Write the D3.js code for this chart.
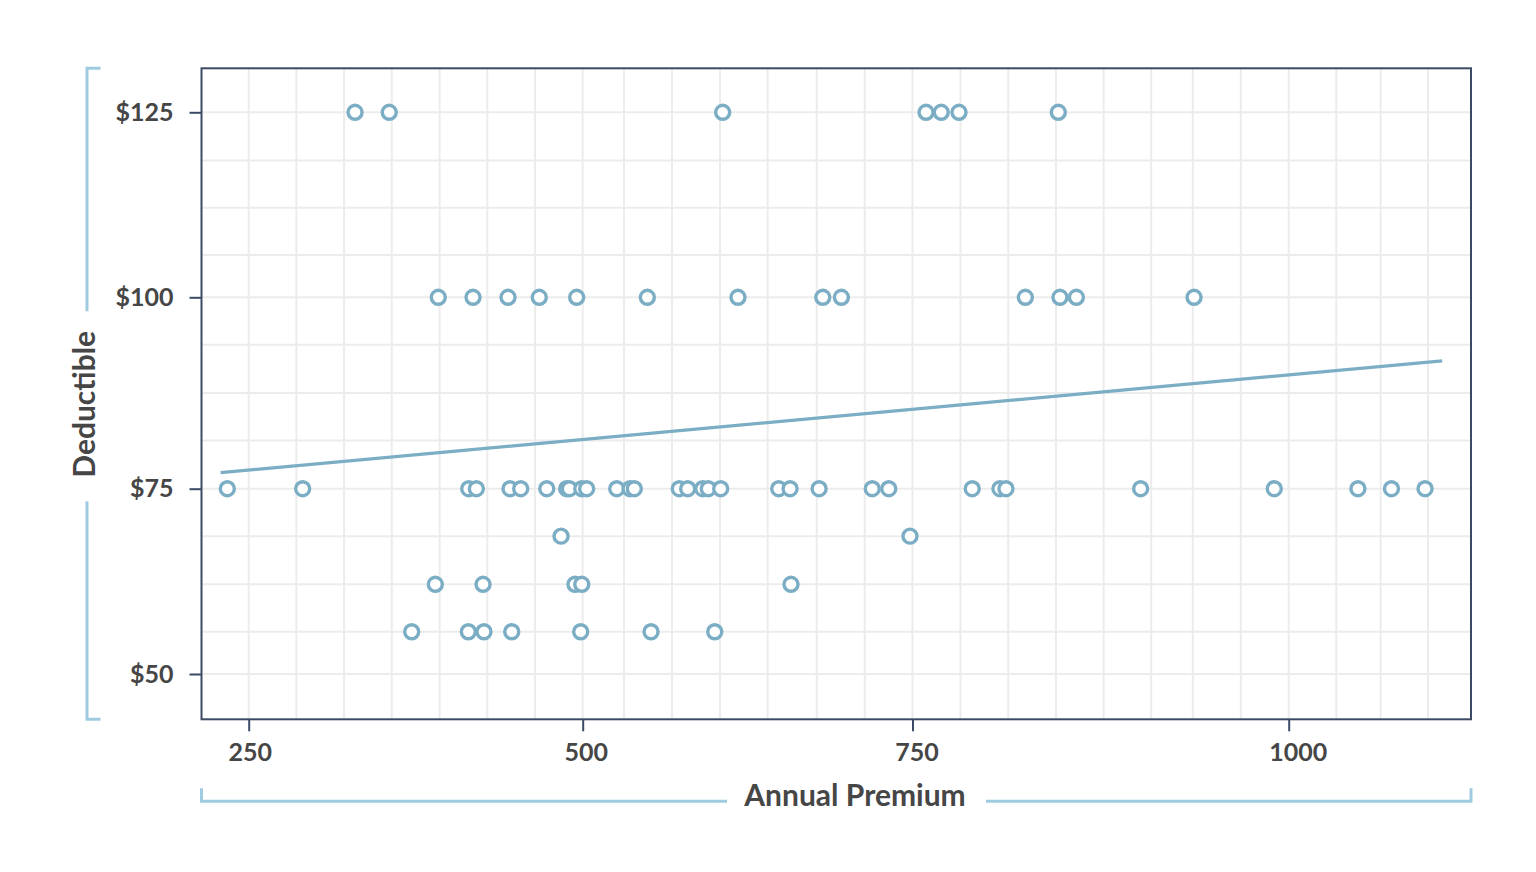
<!DOCTYPE html>
<html>
<head>
<meta charset="utf-8">
<script src="https://cdnjs.cloudflare.com/ajax/libs/d3/7.8.5/d3.min.js"></script>
<style>
  body { margin: 0; background: #fff; }
  text { font-family: Lato, "Open Sans", sans-serif; font-weight: 700; fill: #464646; }
</style>
</head>
<body>
<script>
    // Annual premium readings, grouped by the deductible row they sit on
    var deductibleRows = [125, 100, 75, 68.6, 62.1, 55.7];
    var premiums125 = [329.6, 355.2, 606.1, 759.0, 769.1, 780.9, 846.9];
    var premiums100 = [391.9, 417.9, 444.1, 467.5, 495.5, 549.0, 617.7, 682.0, 696.1, 825.0, 848.0, 858.9, 937.1];
    var premiums75 = [234.0, 290.4, 414.7, 420.4, 445.6, 453.6, 473.1, 488.0, 490.0, 499.3, 503.0, 525.8, 535.9, 539.1,
                      573.2, 579.6, 591.0, 595.2, 604.6, 648.6, 657.2, 679.2, 719.5, 732.0, 789.7, 808.1, 812.1,
                      901.6, 990.4, 1046.0, 1068.3, 1090.6];
    var premiums69 = [483.8, 748.1];
    var premiums62 = [389.7, 425.4, 494.2, 499.3, 657.9];
    var premiums56 = [372.0, 414.4, 426.1, 446.9, 498.5, 551.8, 600.1];
    var premiumRows = [premiums125, premiums100, premiums75, premiums69, premiums62, premiums56];

    // fitted trend line end points
    var trendPremium = [229, 1102];
    var trendDeductible = [77.1, 91.7];

    // ticks and grid
    var xTicks = [250, 500, 750, 1000];
    var yTicks = [50, 75, 100, 125];
    var xGrid = [285.7, 321.4, 357.1, 392.9, 428.6, 464.3, 531.3, 567.7, 604.1, 640.2, 677.4, 713.8,
                 781.9, 813.6, 845.3, 877.0, 908.6, 936.3, 968.2, 1031.6, 1061.1, 1092.6];
    var yGrid = [118.5, 112.1, 105.7, 93.8, 87.5, 81.3, 68.6, 62.1, 55.7];

    var points = [];
    deductibleRows.forEach(function(ded, i) {
        premiumRows[i].forEach(function(p) {
            points.push({premium: p, deductible: ded});
        });
    });

    var margin = {top: 68.3, right: 65, bottom: 152.7, left: 201.5};
    var width = 1536 - margin.left - margin.right;
    var height = 872 - margin.top - margin.bottom;

    var blue = "#7badc4";
    var bracket = "#9fcbe0";
    var frame = "#3c4a66";

    // the picture's axes are not evenly spaced, so each axis is piecewise linear between its ticks
    var x = d3.scaleLinear().domain(xTicks).range([47.2, 381.2, 711, 1087.2]);
    var y = d3.scaleLinear().domain(yTicks).range([605.7, 420.4, 229, 44]);

    var svg = d3.select("body")
        .append("svg")
        .attr("width", 1536)
        .attr("height", 872);

    var g = svg.append("g")
        .attr("transform", "translate(" + margin.left + "," + margin.top + ")");

    // grid
    g.append("g").selectAll("line")
        .data(xGrid.concat(xTicks))
        .enter().append("line")
        .attr("x1", function(d) { return x(d); })
        .attr("x2", function(d) { return x(d); })
        .attr("y1", 0)
        .attr("y2", height)
        .attr("stroke", "#ececec")
        .attr("stroke-width", 2);

    g.append("g").selectAll("line")
        .data(yGrid.concat(yTicks))
        .enter().append("line")
        .attr("y1", function(d) { return y(d); })
        .attr("y2", function(d) { return y(d); })
        .attr("x1", 0)
        .attr("x2", width)
        .attr("stroke", "#ececec")
        .attr("stroke-width", 2);

    // axes
    var xAxis = g.append("g")
        .attr("transform", "translate(0," + height + ")")
        .call(d3.axisBottom(x).tickValues(xTicks).tickSize(12).tickPadding(12).tickFormat(d3.format("d")));

    var yAxis = g.append("g")
        .call(d3.axisLeft(y).tickValues(yTicks).tickSize(12).tickPadding(16).tickFormat(function(d) { return "$" + d; }));

    [xAxis, yAxis].forEach(function(a) {
        a.select(".domain").remove();
        a.selectAll(".tick line").attr("stroke", frame).attr("stroke-width", 2);
        a.selectAll(".tick text").attr("font-size", 25).attr("fill", "#464646")
            .style("font-family", "Lato, sans-serif").style("font-weight", 700);
    });
    // labels in the picture drift a little right of their ticks
    xAxis.selectAll(".tick text").attr("dx", function(d, i) { return [1, 3, 4, 9][i]; });

    g.append("rect")
        .attr("width", width)
        .attr("height", height)
        .attr("fill", "none")
        .attr("stroke", frame)
        .attr("stroke-width", 2);

    // trend line
    var trend = trendPremium.map(function(p, i) { return [p, trendDeductible[i]]; });
    g.append("path")
        .datum(trend)
        .attr("fill", "none")
        .attr("stroke", blue)
        .attr("stroke-width", 3.2)
        .attr("d", d3.line()
            .x(function(d) { return x(d[0]); })
            .y(function(d) { return y(d[1]); }));

    // points
    g.selectAll(".dot")
        .data(points)
        .enter().append("circle")
        .attr("class", "dot")
        .attr("cx", function(d) { return x(d.premium); })
        .attr("cy", function(d) { return y(d.deductible); })
        .attr("r", 7)
        .attr("fill", "#fff")
        .attr("stroke", blue)
        .attr("stroke-width", 3.4);

    // axis titles with bracket lines
    var xTitleX = 653.5, xTitleY = height + 87;
    g.append("text")
        .attr("x", xTitleX)
        .attr("y", xTitleY)
        .attr("text-anchor", "middle")
        .attr("font-size", 30)
        .text("Annual Premium");

    g.append("path")
        .attr("d", "M0," + (height + 69) + "V" + (height + 82) + "H525.5")
        .attr("fill", "none").attr("stroke", bracket).attr("stroke-width", 3);
    g.append("path")
        .attr("d", "M784.5," + (height + 82) + "H" + width + "V" + (height + 69))
        .attr("fill", "none").attr("stroke", bracket).attr("stroke-width", 3);

    g.append("text")
        .attr("transform", "translate(-106.5," + 336 + ") rotate(-90)")
        .attr("text-anchor", "middle")
        .attr("font-size", 30)
        .text("Deductible");

    g.append("path")
        .attr("d", "M-101,0H-114.5V243")
        .attr("fill", "none").attr("stroke", bracket).attr("stroke-width", 3);
    g.append("path")
        .attr("d", "M-114.5,433V" + height + "H-101")
        .attr("fill", "none").attr("stroke", bracket).attr("stroke-width", 3);
</script>
</body>
</html>
